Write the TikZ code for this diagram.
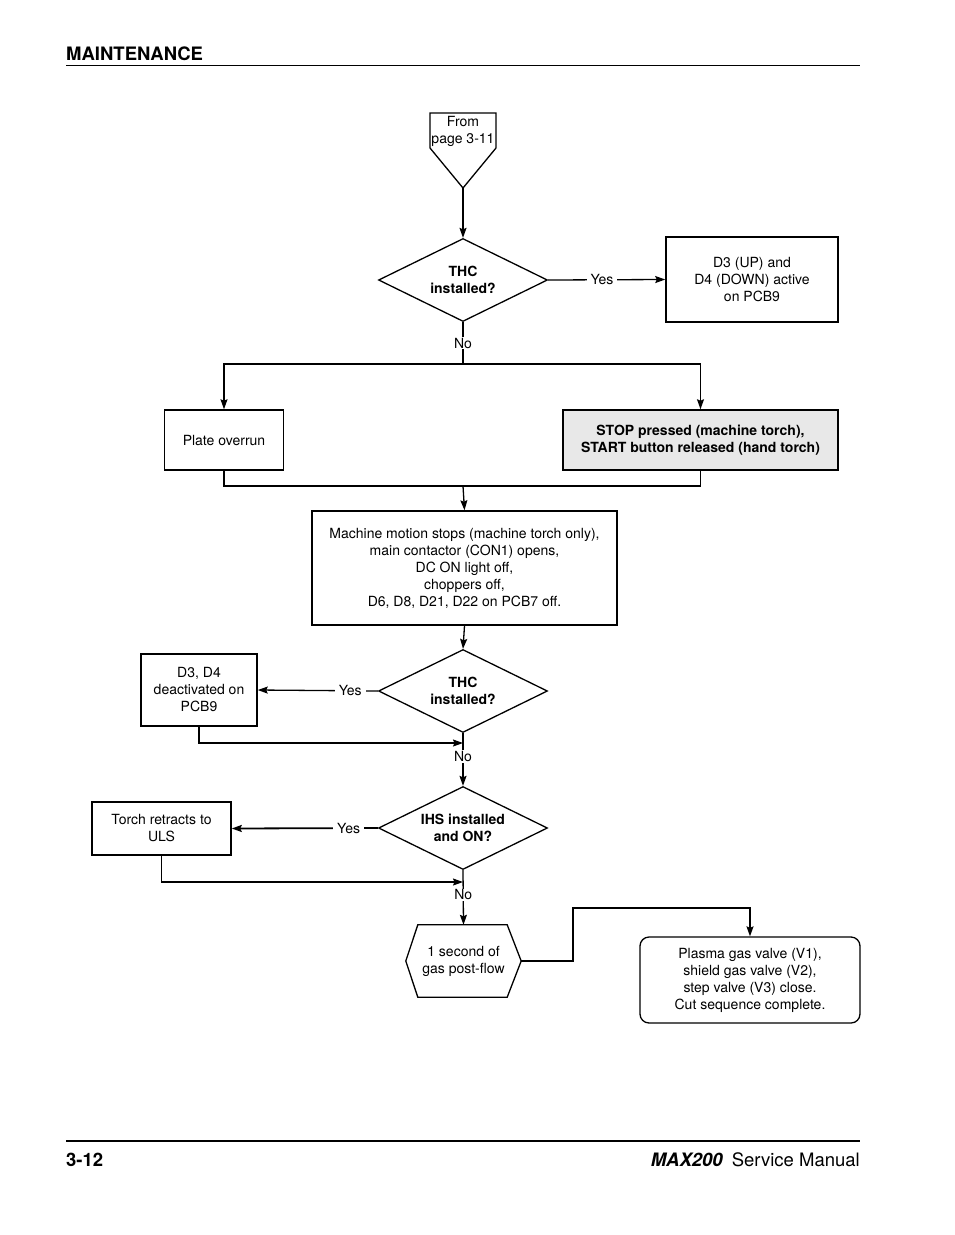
\documentclass[tikz,border=0pt]{standalone}
\usepackage{fontspec}
\setmainfont{TeX Gyre Heros}
\usetikzlibrary{shapes.geometric,arrows.meta}
\begin{document}
\begin{tikzpicture}[x=1pt,y=-1pt,
  every node/.style={font=\fontsize{14}{17}\selectfont},
  box/.style={draw,line width=1.5pt,rectangle,inner sep=0pt,align=center},
  dia/.style={draw,line width=1.3pt,diamond,aspect=2,inner sep=0pt,minimum width=169pt,minimum height=83pt,align=center,font=\fontsize{14}{17}\selectfont\bfseries},
  conn/.style={line width=1.3pt},
  arr/.style={conn,-{Stealth[length=10pt,width=7pt,inset=1.5pt]}},
  lab/.style={fill=white,inner xsep=4pt,inner ysep=1pt}
]
\useasboundingbox (0,0) rectangle (954,1235);
% header / footer
\node[anchor=base west,inner sep=0pt,font=\fontsize{18.5}{20}\selectfont\bfseries] (hd) at (66,60) {MAINTENANCE};
\draw[line width=1pt] (66,65) -- (860,65);
\draw[line width=1.8pt] (66,1141) -- (860,1141);
\node[anchor=base west,inner sep=0pt,font=\fontsize{18.5}{20}\selectfont\bfseries] (pg) at (66,1166) {3-12};
\node[anchor=base east,inner sep=0pt,font=\fontsize{18.5}{20}\selectfont] (mn) at (860,1166) {{\bfseries\itshape MAX200}\hspace{9pt}Service Manual};

% off-page connector
\draw[line width=1.3pt] (430,113) -- (496,113) -- (496,148) -- (463,188) -- (430,148) -- cycle;
\node[inner sep=0pt,align=center] (fp) at (463,131.5) {From\\page 3-11};
\coordinate (fptip) at (463,188);

\node[dia] (d1) at (463,280) {THC\\installed?};
\node[box,minimum width=172pt,minimum height=85pt] (b1) at (752,279.5) {D3 (UP) and\\D4 (DOWN) active\\on PCB9};
\node[box,minimum width=119pt,minimum height=60pt] (po) at (224,440) {Plate overrun};
\node[box,fill=black!9,minimum width=275pt,minimum height=60pt,font=\fontsize{14}{17}\selectfont\bfseries] (stop) at (700.5,440) {STOP pressed (machine torch),\\START button released (hand torch)};
\node[box,minimum width=305pt,minimum height=114pt] (mm) at (464.5,568) {Machine motion stops (machine torch only),\\main contactor (CON1) opens,\\DC ON light off,\\choppers off,\\D6, D8, D21, D22 on PCB7 off.};
\node[dia] (d2) at (463,691) {THC\\installed?};
\node[box,minimum width=116pt,minimum height=72pt] (b3) at (199,690) {D3, D4\\deactivated on\\PCB9};
\node[dia] (d3) at (463,828) {IHS installed\\and ON?};
\node[box,minimum width=139pt,minimum height=53pt] (b4) at (161.5,828.5) {Torch retracts to\\ULS};
\node[inner sep=0pt,minimum width=115pt,minimum height=72pt,align=center] (hx) at (463.5,961) {1 second of\\gas post-flow};
\draw[line width=1.3pt] (hx.west) -- ([xshift=12pt]hx.north west) -- ([xshift=-14pt]hx.north east) -- (hx.east) -- ([xshift=-14pt]hx.south east) -- ([xshift=12pt]hx.south west) -- cycle;
\node[box,line width=1.3pt,rounded corners=9pt,minimum width=220pt,minimum height=86pt] (fin) at (750,980) {Plasma gas valve (V1),\\shield gas valve (V2),\\step valve (V3) close.\\Cut sequence complete.};

\coordinate (bar1) at (463,364);
\coordinate (bar2) at (463,486);
\coordinate (j2) at (463,743);
\coordinate (j3) at (463,882);
\coordinate (k1) at (573,908);

% connectors
\draw[arr] (fptip) -- (d1.north);
\draw[arr] (d1.east) -- node[lab,pos=0.46] {Yes} (b1.west);
\draw[conn] (d1.south) -- node[lab,pos=0.5] {No} (bar1);
\draw[arr] (bar1) -| (po.north);
\draw[arr] (bar1) -| (stop.north);
\draw[conn] (po.south) |- (bar2);
\draw[conn] (stop.south) |- (bar2);
\draw[arr] (bar2) -- (mm.north);
\draw[arr] (mm.south) -- (d2.north);
\draw[arr] (d2.west) -- node[lab,pos=0.23] {Yes} (b3.east);
\draw[arr] (b3.south) |- (j2);
\draw[arr] (d2.south) -- node[lab,pos=0.44] {No} (d3.north);
\draw[arr,line width=1.8pt] (d3.west) -- node[lab,pos=0.2] {Yes} (b4.east);
\draw[arr] (b4.south) |- (j3);
\draw[arr] (d3.south) -- node[lab,pos=0.45] {No} (hx.north);
\draw[arr] (hx.east) -| (k1) -| (fin.north);
\end{tikzpicture}
\end{document}
